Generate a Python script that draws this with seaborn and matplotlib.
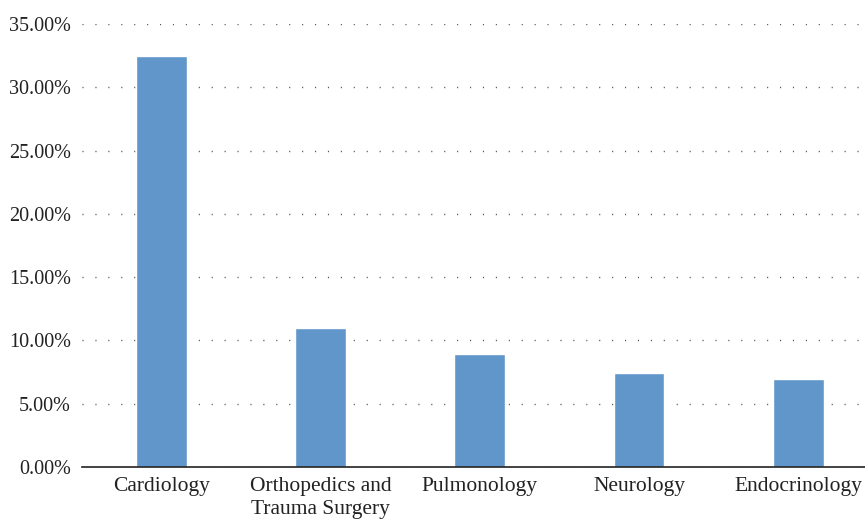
import matplotlib
matplotlib.use("Agg")
import matplotlib.pyplot as plt
import seaborn as sns
import pandas as pd
from matplotlib.ticker import PercentFormatter

specialties = ["Cardiology", "Orthopedics and\nTrauma Surgery", "Pulmonology",
               "Neurology", "Endocrinology"]
shares = [32.5, 11.0, 8.95, 7.45, 6.95]
y_ticks = [0, 5, 10, 15, 20, 25, 30, 35]

df = pd.DataFrame({"specialty": specialties, "share": shares})

sns.set_style("white")
plt.rcParams["font.family"] = ["Liberation Serif", "DejaVu Serif"]

fig = plt.figure(figsize=(8.65, 5.22), dpi=100)
ax = fig.add_axes([82 / 865, 1 - 467 / 522, 1 - 82 / 865, (467 - 24) / 522])

sns.barplot(data=df, x="specialty", y="share", color="#6096CA",
            saturation=1, width=0.32, ax=ax, zorder=3)

ax.set_ylim(0, 35)
ax.set_xlim(-0.5, 4.42)
ax.set_yticks(y_ticks)
ax.yaxis.set_major_formatter(PercentFormatter(decimals=2))
ax.set_xlabel("")
ax.set_ylabel("")

ax.yaxis.grid(True, color="#555555", linewidth=1, linestyle=(0, (0.8, 8.5)), zorder=0)
ax.xaxis.grid(False)
for s in ["left", "right", "top"]:
    ax.spines[s].set_visible(False)
ax.spines["bottom"].set_color("#222222")
ax.spines["bottom"].set_linewidth(1.2)
ax.spines["bottom"].set_zorder(4)

ax.tick_params(axis="both", length=0, colors="#222222")
ax.tick_params(axis="y", pad=8, labelsize=14.5)
ax.tick_params(axis="x", pad=7, labelsize=15.5)
for lbl in ax.get_xticklabels():
    lbl.set_linespacing(1.3)

fig.savefig("out.png", dpi=100)
